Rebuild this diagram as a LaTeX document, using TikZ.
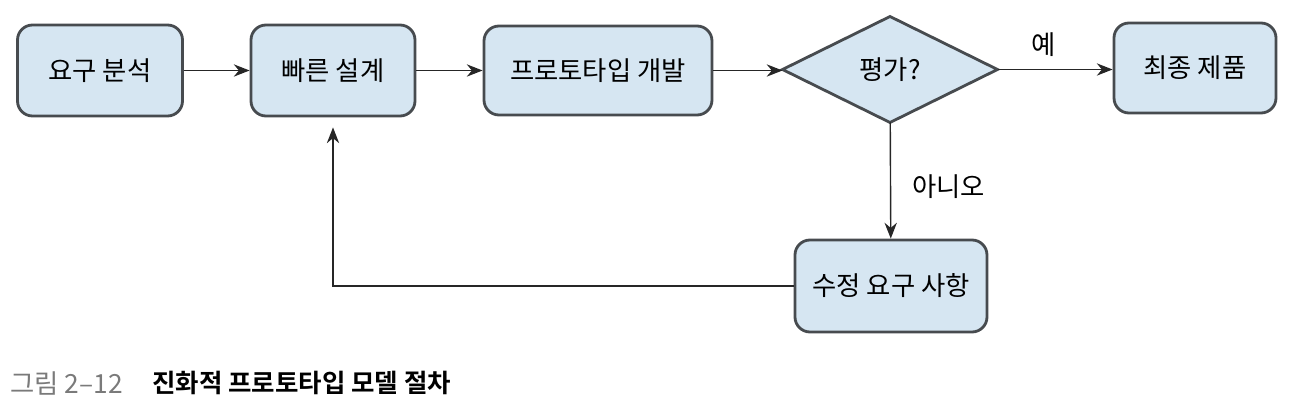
\documentclass[tikz,border=0pt]{standalone}
\usepackage{fontspec}
\setmainfont{Noto Sans CJK KR}[BoldFont={Noto Sans CJK KR Bold}]
\usepackage{xcolor}
\usetikzlibrary{shapes.geometric,arrows.meta,positioning,calc}

\definecolor{boxfill}{HTML}{D6E6F2}
\definecolor{boxline}{HTML}{474B4F}
\definecolor{capgray}{HTML}{7A7A7A}

\tikzset{
    stepbox/.style={draw=boxline, line width=1.6pt, fill=boxfill, rounded corners=0.3cm,
        minimum height=1.82cm, inner sep=0pt, font=\fontsize{15}{17}\selectfont},
    decide/.style={draw=boxline, line width=1.6pt, fill=boxfill, diamond, aspect=2,
        minimum width=4.3cm, minimum height=2.12cm, inner sep=0pt, outer sep=0pt,
        font=\fontsize{15}{17}\selectfont},
    flow/.style={draw=black!85, line width=0.8pt, -{Stealth[length=9pt,width=7pt]}},
    lbl/.style={font=\fontsize{15}{17}\selectfont}
}

\begin{document}
\begin{tikzpicture}
    \useasboundingbox (0,0) rectangle (25.8,-8.18);

    % main row
    \node[stepbox, minimum width=3.3cm] (req) at (2.0,-1.41) {요구 분석};
    \node[stepbox, minimum width=3.28cm] (design) at (6.66,-1.41) {빠른 설계};
    \node[stepbox, minimum width=4.56cm, minimum height=1.78cm] (proto) at (11.96,-1.41) {프로토타입 개발};
    \node[decide] (eval) at (17.8,-1.39) {평가?};
    \node[stepbox, minimum width=3.24cm, minimum height=1.8cm] (final) at (23.9,-1.36) {최종 제품};

    % loop back
    \node[stepbox, minimum width=3.84cm, minimum height=1.84cm] (fix) at (17.82,-5.72) {수정 요구 사항};

    \draw[flow] (req) -- (design);
    \draw[flow] (design) -- (proto);
    \draw[flow] (proto.east) -- (proto.east -| eval.west);
    \draw[flow] (eval.east) -- node[lbl, above=0.12cm, pos=0.4] {예} (eval.east -| final.west);
    \draw[flow] (eval) -- node[lbl, right=0.3cm, pos=0.55] {아니오} (fix);
    \draw[flow] (fix.west) -| ($(design.south)+(0,-0.2)$);

    % caption
    \node[anchor=west, text=capgray, font=\fontsize{15}{17}\selectfont, inner sep=0pt] (capnum) at (0.2,-7.66) {그림 2–12};
    \node[anchor=west, font=\fontsize{14.5}{17}\selectfont\bfseries, inner sep=0pt] (captxt) at (3.04,-7.66) {진화적 프로토타입 모델 절차};
\end{tikzpicture}
\end{document}
